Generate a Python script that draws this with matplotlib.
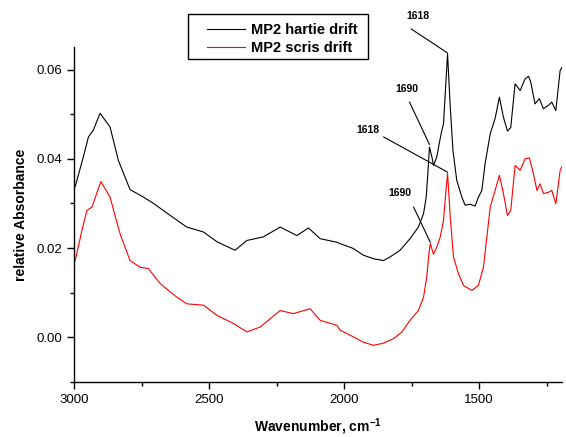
import matplotlib
matplotlib.use("Agg")
import matplotlib.pyplot as plt
from matplotlib.ticker import MultipleLocator
from matplotlib.patches import Rectangle

plt.rcParams['font.family'] = ['Liberation Sans', 'DejaVu Sans']

# =========================
# DATA
# =========================
wn_hartie = [2996, 2966, 2947, 2929, 2904, 2867, 2836, 2793, 2743, 2706,
             2644, 2583, 2521, 2471, 2404, 2360, 2299, 2237, 2175, 2132,
             2089, 2027, 2015, 1966, 1929, 1891, 1854, 1830, 1793, 1756,
             1725, 1706, 1696, 1690, 1684, 1675, 1669, 1657, 1647, 1638,
             1632, 1617, 1607, 1597, 1583, 1564, 1552, 1533, 1515, 1503,
             1490, 1478, 1459, 1441, 1425, 1410, 1395, 1383, 1367, 1348,
             1330, 1317, 1309, 1293, 1277, 1262, 1243, 1231, 1216, 1200, 1193]
abs_hartie = [0.0338, 0.0404, 0.0449, 0.0464, 0.0502, 0.0471, 0.0396, 0.0331, 0.0314, 0.0300,
              0.0273, 0.0247, 0.0236, 0.0214, 0.0195, 0.0217, 0.0225, 0.0247, 0.0228, 0.0245,
              0.0221, 0.0213, 0.0210, 0.0199, 0.0184, 0.0176, 0.0172, 0.0180, 0.0195, 0.0221,
              0.0247, 0.0277, 0.0314, 0.0367, 0.0426, 0.0404, 0.0385, 0.0404, 0.0437, 0.0464,
              0.0479, 0.0635, 0.0516, 0.0419, 0.0352, 0.0314, 0.0296, 0.0298, 0.0294, 0.0314,
              0.0329, 0.0389, 0.0456, 0.0490, 0.0538, 0.0493, 0.0462, 0.0470, 0.0568, 0.0553,
              0.0579, 0.0585, 0.0572, 0.0523, 0.0535, 0.0512, 0.0520, 0.0527, 0.0508, 0.0598, 0.0605]

wn_scris = [2996, 2971, 2953, 2934, 2901, 2867, 2830, 2793, 2756, 2725,
            2681, 2620, 2583, 2521, 2471, 2410, 2360, 2311, 2237, 2188,
            2126, 2089, 2027, 2015, 1966, 1929, 1891, 1854, 1817, 1786,
            1756, 1725, 1706, 1694, 1686, 1681, 1669, 1657, 1644, 1632,
            1625, 1617, 1607, 1595, 1577, 1558, 1527, 1503, 1484, 1459,
            1441, 1425, 1410, 1395, 1383, 1367, 1348, 1330, 1314, 1299,
            1286, 1274, 1262, 1243, 1231, 1216, 1200, 1193]
abs_scris = [0.0172, 0.0240, 0.0284, 0.0292, 0.0349, 0.0314, 0.0232, 0.0172, 0.0157, 0.0154,
             0.0120, 0.0090, 0.0075, 0.0072, 0.0049, 0.0031, 0.0012, 0.0023, 0.0060, 0.0053,
             0.0064, 0.0038, 0.0027, 0.0016, 0.0001, -0.0011, -0.0018, -0.0013, -0.0003, 0.0012,
             0.0038, 0.0060, 0.0090, 0.0135, 0.0187, 0.0210, 0.0186, 0.0202, 0.0225, 0.0262,
             0.0314, 0.0367, 0.0269, 0.0180, 0.0143, 0.0116, 0.0105, 0.0116, 0.0157, 0.0292,
             0.0329, 0.0363, 0.0322, 0.0273, 0.0284, 0.0385, 0.0374, 0.0400, 0.0402, 0.0367,
             0.0329, 0.0344, 0.0322, 0.0325, 0.0329, 0.0299, 0.0374, 0.0383]

series_labels = ["MP2 hartie drift", "MP2 scris drift"]

# peak labels: (text, peak wn, peak abs)
peak_labels = [("1618", 1617, 0.0637), ("1690", 1684, 0.0432),
               ("1618", 1617, 0.0370), ("1690", 1681, 0.0213)]

# =========================
# FIGURE
# =========================
fig = plt.figure(figsize=(5.66, 4.37), dpi=100)
ax = fig.add_axes([0.131, 0.126, 0.862, 0.766])

ax.plot(wn_hartie, abs_hartie, color="black", lw=0.8, label=series_labels[0])
ax.plot(wn_scris, abs_scris, color="red", lw=0.8, label=series_labels[1])

ax.set_xlim(3000, 1193)
ax.set_ylim(-0.01, 0.065)
ax.xaxis.set_major_locator(MultipleLocator(500))
ax.xaxis.set_minor_locator(MultipleLocator(250))
ax.yaxis.set_major_locator(MultipleLocator(0.02))
ax.yaxis.set_minor_locator(MultipleLocator(0.01))
ax.yaxis.set_major_formatter(plt.FormatStrFormatter("%.2f"))

for side in ("top", "right"):
    ax.spines[side].set_visible(False)
for side in ("left", "bottom"):
    ax.spines[side].set_linewidth(1.0)
ax.tick_params(which="major", direction="out", length=5, width=1, labelsize=9.5)
ax.tick_params(which="minor", direction="out", length=3, width=1)

ax.set_xlabel("Wavenumber, cm$^{\\mathregular{-1}}$", fontsize=10, fontweight="bold", labelpad=8)
ax.set_ylabel("relative Absorbance", fontsize=10, fontweight="bold", labelpad=6)

# leader lines + labels (start of line, text position)
starts = [(1752, 0.0691), (1758, 0.0527), (1854, 0.0449), (1743, 0.0292)]
texts = [(1726, 0.0721), (1768, 0.0557), (1911, 0.0464), (1793, 0.0323)]
for (lab, px, py), (sx, sy), (tx, ty) in zip(peak_labels, starts, texts):
    ax.annotate("", xy=(px, py), xytext=(sx, sy),
                arrowprops=dict(arrowstyle="-", lw=0.8, color="black",
                                shrinkA=0, shrinkB=0),
                annotation_clip=False)
    ax.text(tx, ty, lab, fontsize=7.5, fontweight="bold", ha="center",
            va="center", clip_on=False)

# legend without its own frame, box drawn separately
fig.patches.append(Rectangle((0.332, 0.865), 0.318, 0.103, transform=fig.transFigure,
                             facecolor="white", edgecolor="black", lw=1.0, zorder=3))
leg = fig.legend(loc="upper left", bbox_to_anchor=(0.366, 0.948),
                 frameon=False, prop={"weight": "bold", "size": 10.5},
                 handlelength=2.6, handletextpad=0.4, borderaxespad=0,
                 borderpad=0, labelspacing=0.3)
leg.set_zorder(4)

fig.savefig("out.png", dpi=100)
